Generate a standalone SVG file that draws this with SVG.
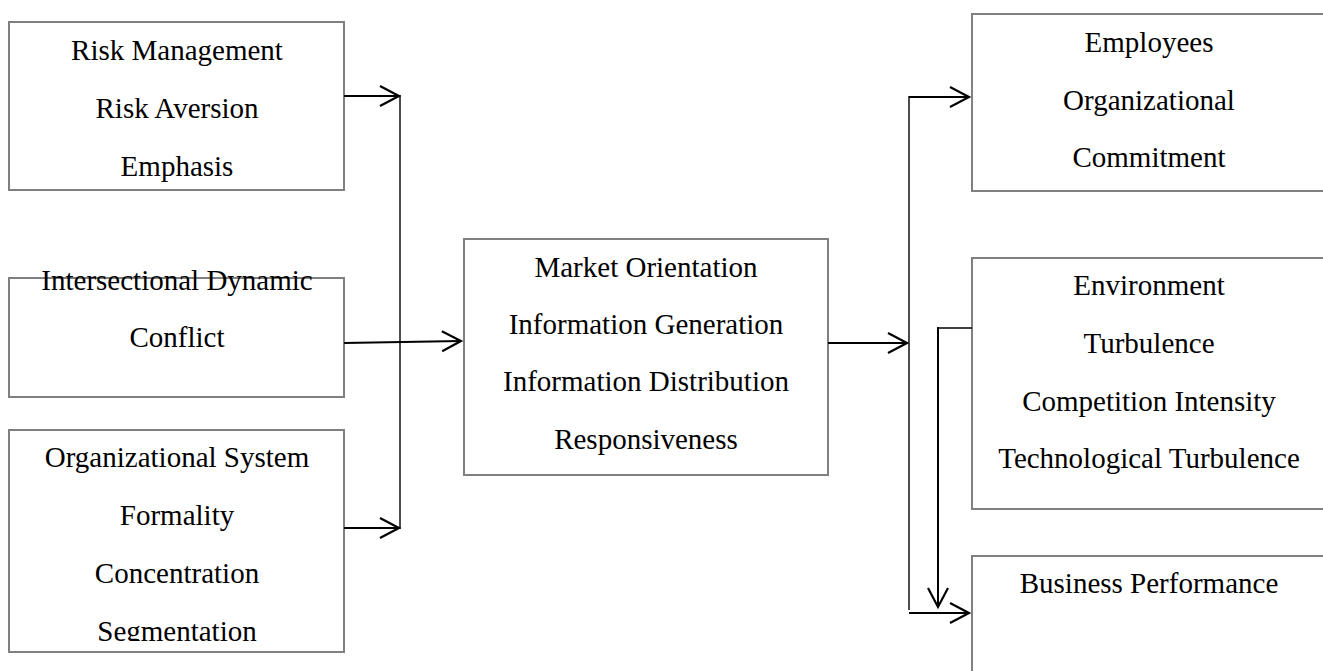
<svg xmlns="http://www.w3.org/2000/svg" width="1323" height="671" viewBox="0 0 1323 671">
  <style>
    .box { fill: #ffffff; stroke: #808080; stroke-width: 2; }
    .label { font-family: "Liberation Serif", "Times New Roman", serif; font-size: 29px; fill: #000000; text-anchor: middle; }
    .wire { fill: none; stroke: #000000; stroke-width: 2; }
    .rail { fill: none; stroke: #000000; stroke-width: 1.4; }
  </style>
  <defs>
    <marker id="head" markerUnits="userSpaceOnUse" markerWidth="24" markerHeight="24" viewBox="-21 -12 24 24" refX="0" refY="0" orient="auto">
      <path d="M-19,-10 L0,0 L-19,10" fill="none" stroke="#000000" stroke-width="2.2"/>
    </marker>
    <clipPath id="clip-org">
      <rect x="9" y="430" width="335" height="211"/>
    </clipPath>
  </defs>

  <rect width="1323" height="671" fill="#ffffff"/>

  <g id="risk-management">
    <rect class="box" x="9" y="22" width="335" height="168"/>
    <text class="label" x="177" y="60">Risk Management</text>
    <text class="label" x="177" y="118">Risk Aversion</text>
    <text class="label" x="177" y="176">Emphasis</text>
  </g>

  <g id="intersectional-conflict">
    <rect class="box" x="9" y="278" width="335" height="119"/>
    <text class="label" x="177" y="290">Intersectional Dynamic</text>
    <text class="label" x="177" y="347">Conflict</text>
  </g>

  <g id="organizational-system">
    <rect class="box" x="9" y="430" width="335" height="222"/>
    <g clip-path="url(#clip-org)">
      <text class="label" x="177" y="467">Organizational System</text>
      <text class="label" x="177" y="525">Formality</text>
      <text class="label" x="177" y="583">Concentration</text>
      <text class="label" x="177" y="641">Segmentation</text>
    </g>
  </g>

  <g id="market-orientation">
    <rect class="box" x="464" y="239" width="364" height="236"/>
    <text class="label" x="646" y="277">Market Orientation</text>
    <text class="label" x="646" y="334">Information Generation</text>
    <text class="label" x="646" y="391">Information Distribution</text>
    <text class="label" x="646" y="449">Responsiveness</text>
  </g>

  <g id="employees-commitment">
    <rect class="box" x="972" y="14" width="360" height="177"/>
    <text class="label" x="1149" y="52">Employees</text>
    <text class="label" x="1149" y="110">Organizational</text>
    <text class="label" x="1149" y="167">Commitment</text>
  </g>

  <g id="environment">
    <rect class="box" x="972" y="258" width="360" height="251"/>
    <text class="label" x="1149" y="295">Environment</text>
    <text class="label" x="1149" y="353">Turbulence</text>
    <text class="label" x="1149" y="411">Competition Intensity</text>
    <text class="label" x="1149" y="468">Technological Turbulence</text>
  </g>

  <g id="business-performance">
    <rect class="box" x="972" y="556" width="360" height="130"/>
    <text class="label" x="1149" y="593">Business Performance</text>
  </g>

  <g id="connectors">
    <!-- antecedents feeding the left rail -->
    <line class="wire" x1="344" y1="96" x2="399" y2="96" marker-end="url(#head)"/>
    <line class="wire" x1="344" y1="528" x2="399" y2="528" marker-end="url(#head)"/>
    <line class="rail" x1="400" y1="95" x2="400" y2="529"/>
    <!-- conflict into market orientation -->
    <line class="wire" x1="344" y1="343" x2="461" y2="341" marker-end="url(#head)"/>
    <!-- market orientation to the right rail -->
    <line class="wire" x1="828" y1="343" x2="907" y2="343" marker-end="url(#head)"/>
    <line class="rail" x1="909" y1="96" x2="909" y2="610"/>
    <line class="wire" x1="909" y1="97" x2="969" y2="97" marker-end="url(#head)"/>
    <line class="wire" x1="909" y1="613" x2="969" y2="613" marker-end="url(#head)"/>
    <!-- environment moderating business performance -->
    <polyline class="rail" points="972,328 938,328"/>
    <line class="wire" x1="938" y1="327" x2="938" y2="607" marker-end="url(#head)"/>
  </g>
</svg>
